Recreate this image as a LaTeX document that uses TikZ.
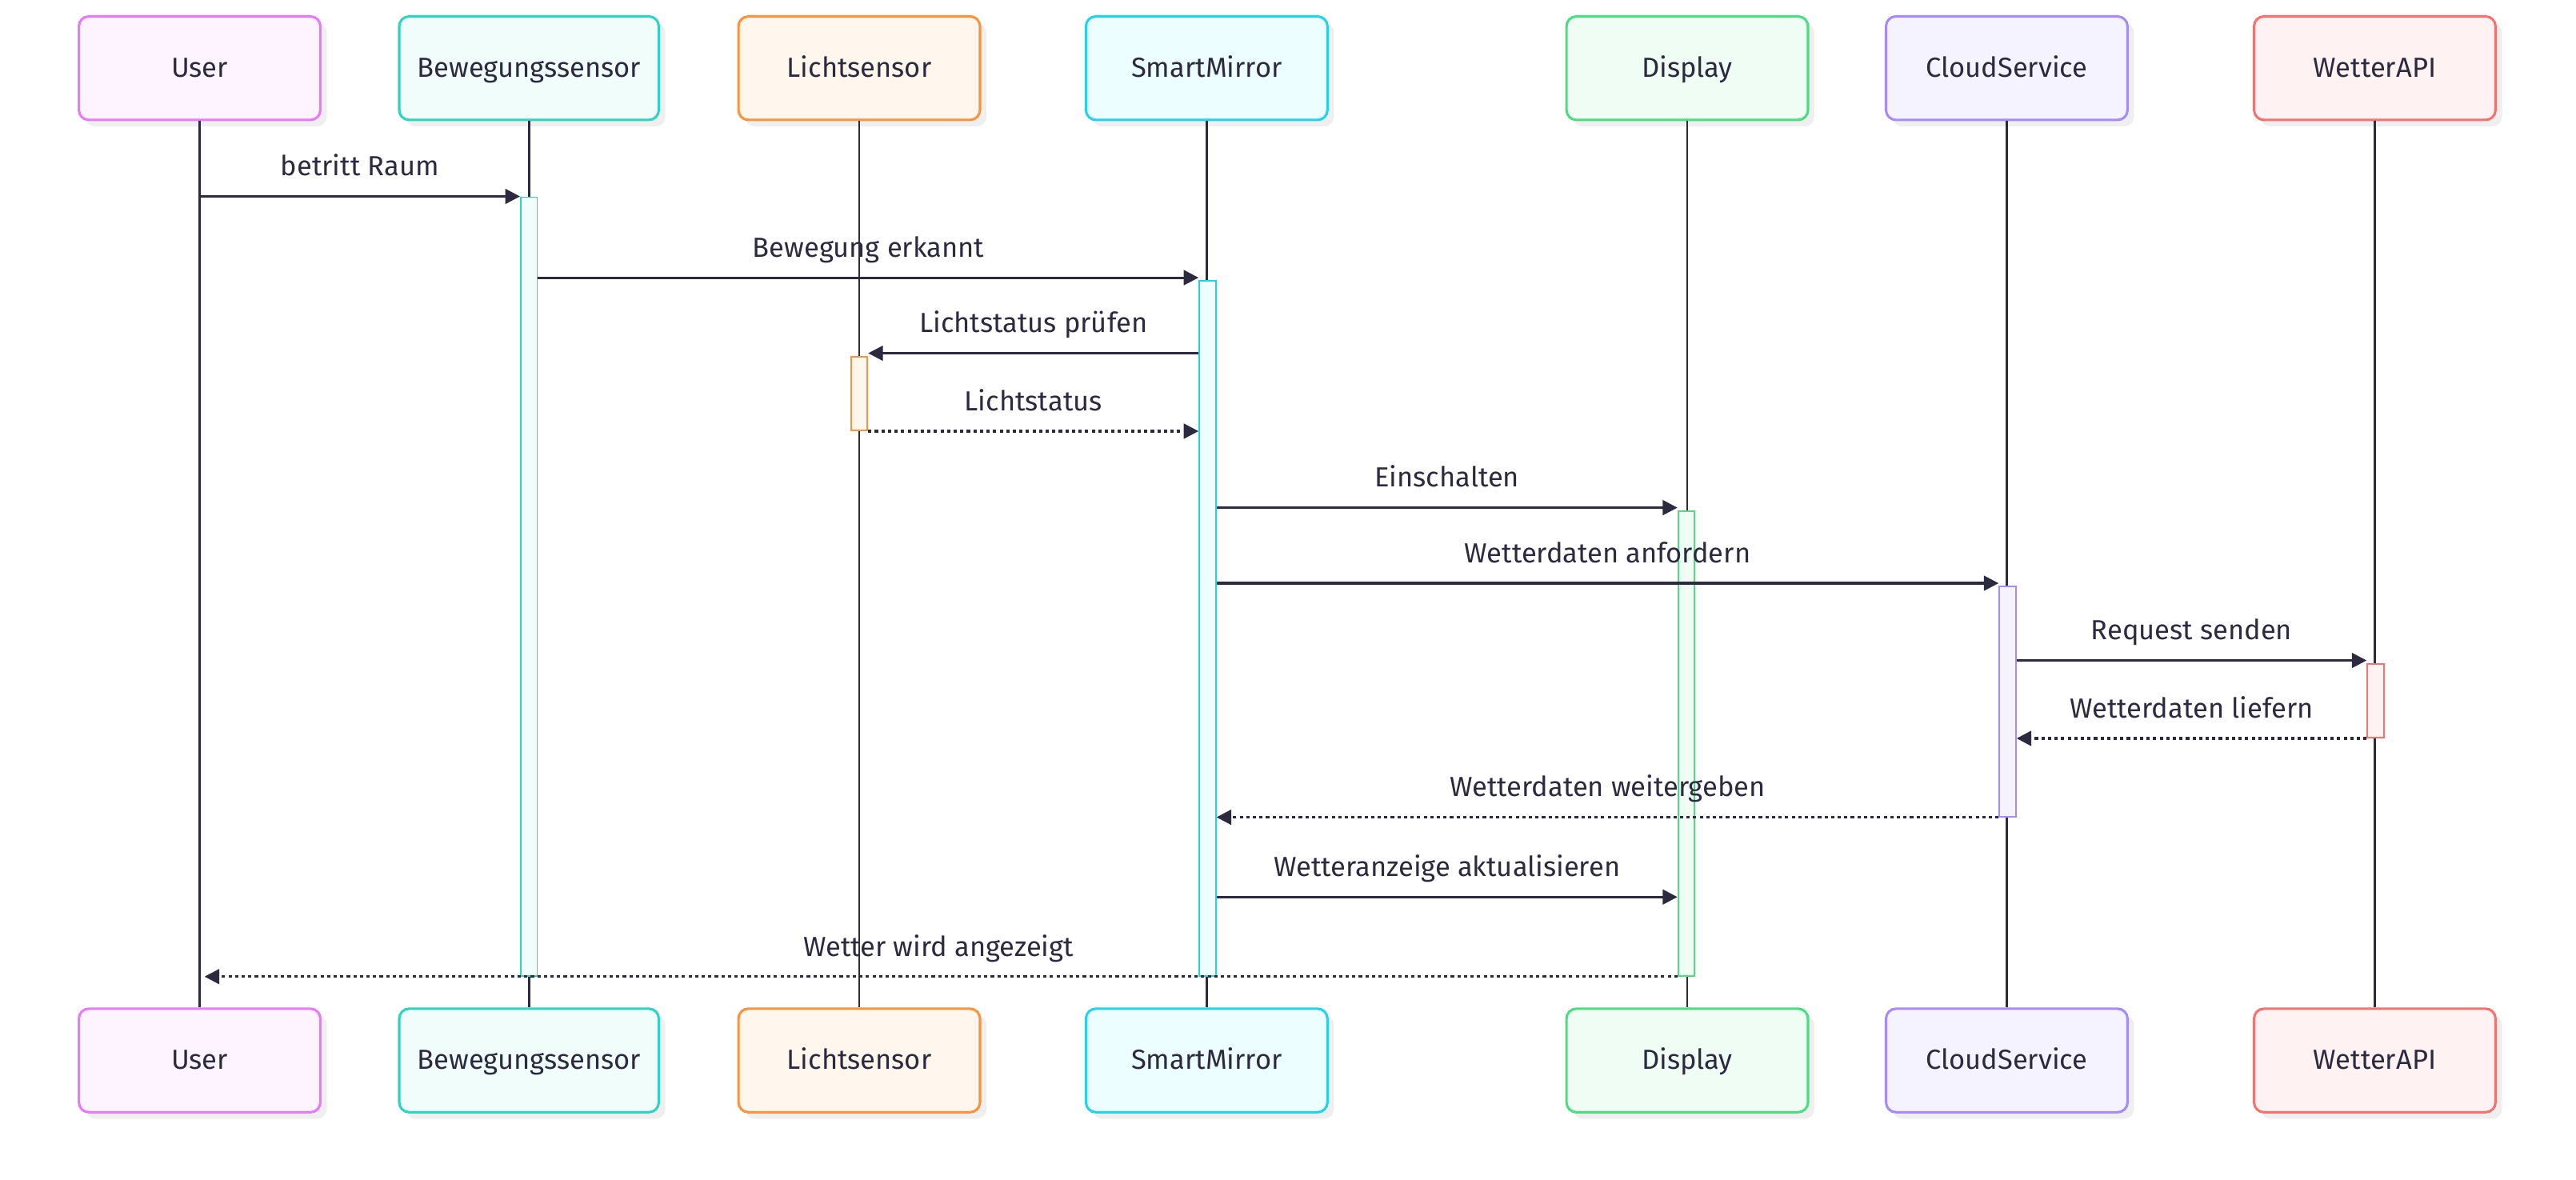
\documentclass[tikz,border=0pt]{standalone}
\usepackage{fontspec}
\setmainfont{Fira Sans}
\usetikzlibrary{arrows.meta,shadows,calc}
\definecolor{ink}{HTML}{2B2A3F}
\definecolor{cUserB}{HTML}{E879F9}\definecolor{cUserF}{HTML}{FDF4FF}
\definecolor{cBewB}{HTML}{2DD4BF}\definecolor{cBewF}{HTML}{F0FDFA}
\definecolor{cLichtB}{HTML}{FB923C}\definecolor{cLichtF}{HTML}{FFF7ED}
\definecolor{cSmartB}{HTML}{22D3EE}\definecolor{cSmartF}{HTML}{ECFEFF}
\definecolor{cDispB}{HTML}{4ADE80}\definecolor{cDispF}{HTML}{F0FDF4}
\definecolor{cCloudB}{HTML}{A78BFA}\definecolor{cCloudF}{HTML}{F5F3FF}
\definecolor{cWetB}{HTML}{F87171}\definecolor{cWetF}{HTML}{FEF2F2}
\definecolor{shadowc}{HTML}{EFEFEF}
\begin{document}
\begin{tikzpicture}[x=1pt,y=-1pt,
  actorbox/.style 2 args={draw=#1, fill=#2, line width=1.5pt, rounded corners=6pt,
    minimum width=147pt, minimum height=63pt, inner sep=0pt, text=ink,
    font=\fontsize{16.8}{20}\selectfont, text height=1.2em, text depth=0.12em,
    drop shadow={shadow xshift=4pt, shadow yshift=-4pt, fill=shadowc, opacity=1}},
  actbar/.style 2 args={draw=#1, fill=#2, line width=0.9pt, minimum width=10pt, inner sep=0pt},
  lifeline/.style={draw=ink, line width=1.4pt},
  msg/.style={draw=ink, line width=1.5pt, -{Triangle[length=9pt,width=9pt]}},
  reply/.style={msg, dash pattern=on 2pt off 2pt},
  lbl/.style={anchor=base, yshift=12.5pt, text=ink, font=\fontsize{16.8}{20}\selectfont, inner sep=0pt}
]
\useasboundingbox (0,0) rectangle (1568,718);

% participants (top)
\node[actorbox={cUserB}{cUserF}] (t1) at (121.5,41.5) {User};
\node[actorbox={cBewB}{cBewF}, minimum width=158pt] (t2) at (322,41.5) {Bewegungssensor};
\node[actorbox={cLichtB}{cLichtF}] (t3) at (523,41.5) {Lichtsensor};
\node[actorbox={cSmartB}{cSmartF}] (t4) at (734.5,41.5) {SmartMirror};
\node[actorbox={cDispB}{cDispF}] (t5) at (1027,41.5) {Display};
\node[actorbox={cCloudB}{cCloudF}] (t6) at (1221.5,41.5) {CloudService};
\node[actorbox={cWetB}{cWetF}] (t7) at (1445.5,41.5) {WetterAPI};
% participants (bottom)
\node[actorbox={cUserB}{cUserF}] (b1) at (121.5,645.5) {User};
\node[actorbox={cBewB}{cBewF}, minimum width=158pt] (b2) at (322,645.5) {Bewegungssensor};
\node[actorbox={cLichtB}{cLichtF}] (b3) at (523,645.5) {Lichtsensor};
\node[actorbox={cSmartB}{cSmartF}] (b4) at (734.5,645.5) {SmartMirror};
\node[actorbox={cDispB}{cDispF}] (b5) at (1027,645.5) {Display};
\node[actorbox={cCloudB}{cCloudF}] (b6) at (1221.5,645.5) {CloudService};
\node[actorbox={cWetB}{cWetF}] (b7) at (1445.5,645.5) {WetterAPI};

% lifelines
\foreach \i in {1,...,7} {
  \draw[lifeline] (t\i.south) -- (b\i.north);
}

% activations
\node[actbar={cBewB}{cBewF}, minimum height=474pt] (a2) at (322,357) {};
\node[actbar={cLichtB}{cLichtF}, minimum height=45pt] (a3) at (523,239.5) {};
\node[actbar={cSmartB}{cSmartF}, minimum height=423pt] (a4) at (735,382.5) {};
\node[actbar={cDispB}{cDispF}, minimum height=283pt] (a5) at (1026.5,452.5) {};
\node[actbar={cCloudB}{cCloudF}, minimum height=140pt] (a6) at (1222,427) {};
\node[actbar={cWetB}{cWetF}, minimum height=45pt] (a7) at (1446,426.5) {};

% messages
\draw[msg] (t1.south |- a2.north) -- (a2.north west) node[lbl, midway] {betritt Raum};
\draw[msg] (a2.east |- 0,169) -- (a4.west |- 0,169) node[lbl, midway] {Bewegung erkannt};
\draw[msg] (a4.west |- 0,215) -- (a3.east |- 0,215) node[lbl, midway] {Lichtstatus prüfen};
\draw[reply] (a3.south east) -- (a4.west |- a3.south) node[lbl, midway] {Lichtstatus};
\draw[msg] (a4.east |- 0,309) -- (a5.west |- 0,309) node[lbl, midway] {Einschalten};
\draw[msg] (a4.east |- 0,355) -- (a6.west |- 0,355) node[lbl, midway] {Wetterdaten anfordern};
\draw[msg] (a6.east |- 0,402) -- (a7.west |- 0,402) node[lbl, midway] {Request senden};
\draw[reply] (a7.south west) -- (a6.east |- a7.south) node[lbl, midway] {Wetterdaten liefern};
\draw[reply] (a6.south west) -- (a4.east |- a6.south) node[lbl, midway] {Wetterdaten weitergeben};
\draw[msg] (a4.east |- 0,546) -- (a5.west |- 0,546) node[lbl, midway] {Wetteranzeige aktualisieren};
\draw[reply, shorten >=3pt] (a5.south west) -- (t1.south |- a5.south) node[lbl, midway] {Wetter wird angezeigt};
\end{tikzpicture}
\end{document}
